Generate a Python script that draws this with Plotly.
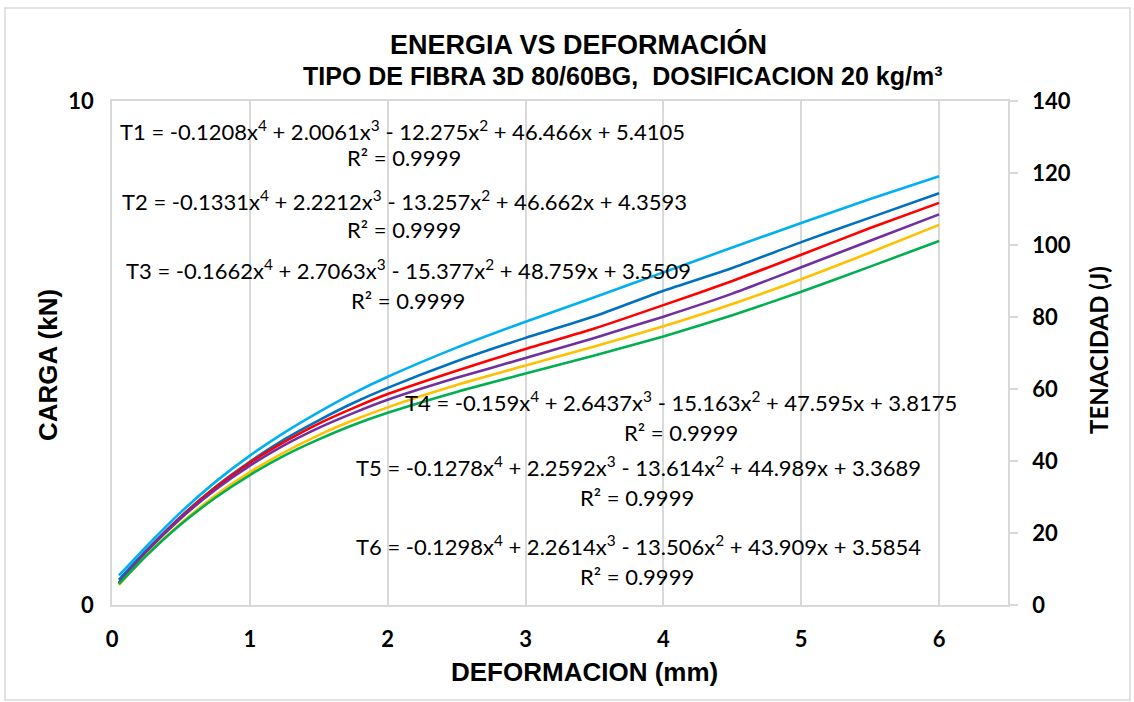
import plotly.graph_objects as go

# deformation (mm) and toughness (J)
DEFORMACION = [0.05, 0.25, 0.5, 0.75, 1.0, 1.25, 1.5, 1.75, 2.0, 2.5, 3.0, 3.5, 4.0, 4.5, 5.0, 5.5, 6.0]
T1 = [8.2, 16.3, 25.8, 34.2, 41.5, 47.9, 53.6, 58.8, 63.4, 71.5, 78.7, 85.5, 92.4, 99.3, 106.1, 112.8, 119.1]
T2 = [7.0, 15.2, 24.6, 32.8, 39.8, 46.0, 51.3, 56.1, 60.3, 67.7, 74.2, 80.2, 87.3, 93.6, 100.8, 107.6, 114.4]
T3 = [6.0, 14.8, 24.4, 32.6, 39.5, 45.3, 50.4, 54.7, 58.6, 65.1, 71.1, 76.8, 83.3, 90.0, 97.3, 104.7, 111.7]
T4 = [6.2, 14.8, 24.1, 32.0, 38.7, 44.4, 49.2, 53.3, 57.0, 63.1, 68.6, 74.2, 80.1, 86.5, 93.8, 101.2, 108.5]
T5 = [5.6, 13.8, 22.7, 30.4, 36.9, 42.4, 47.2, 51.3, 54.9, 61.1, 66.5, 71.8, 77.4, 83.6, 90.5, 97.9, 105.6]
T6 = [5.8, 13.7, 22.4, 29.8, 36.1, 41.5, 46.0, 50.0, 53.4, 59.2, 64.3, 69.3, 74.6, 80.5, 87.0, 94.0, 101.1]

SERIES = {"T1": T1, "T2": T2, "T3": T3, "T4": T4, "T5": T5, "T6": T6}
COLORS = {
    "T1": "#00B0F0",
    "T2": "#0070C0",
    "T3": "#FF0000",
    "T4": "#7030A0",
    "T5": "#FFC000",
    "T6": "#00B050",
}

# trendline labels: (text, x centre in mm, y in J)
EQUATIONS = [
    ("T1 = -0.1208x<sup>4</sup> + 2.0061x<sup>3</sup> - 12.275x<sup>2</sup> + 46.466x + 5.4105", 2.11, 131.9),
    ("R² = 0.9999", 2.12, 124.2),
    ("T2 = -0.1331x<sup>4</sup> + 2.2212x<sup>3</sup> - 13.257x<sup>2</sup> + 46.662x + 4.3593", 2.12, 112.5),
    ("R² = 0.9999", 2.12, 104.2),
    ("T3 = -0.1662x<sup>4</sup> + 2.7063x<sup>3</sup> - 15.377x<sup>2</sup> + 48.759x + 3.5509", 2.15, 93.1),
    ("R² = 0.9999", 2.15, 84.7),
    ("T4 = -0.159x<sup>4</sup> + 2.6437x<sup>3</sup> - 15.163x<sup>2</sup> + 47.595x + 3.8175", 4.13, 56.4),
    ("R² = 0.9999", 4.13, 47.8),
    ("T5 = -0.1278x<sup>4</sup> + 2.2592x<sup>3</sup> - 13.614x<sup>2</sup> + 44.989x + 3.3689", 3.82, 38.6),
    ("R² = 0.9999", 3.81, 30.0),
    ("T6 = -0.1298x<sup>4</sup> + 2.2614x<sup>3</sup> - 13.506x<sup>2</sup> + 43.909x + 3.5854", 3.82, 16.4),
    ("R² = 0.9999", 3.81, 7.8),
]

GRID = "#D9D9D9"
TICK_FONT = dict(family="Lato, Arial", size=22, color="black", weight="bold")

fig = go.Figure()
# dummy trace so the left (CARGA) axis is drawn
fig.add_trace(go.Scatter(x=[None], y=[None], yaxis="y", showlegend=False, hoverinfo="skip"))
for name, vals in SERIES.items():
    fig.add_trace(go.Scatter(
        x=DEFORMACION, y=vals, name=name, yaxis="y2", mode="lines",
        line=dict(color=COLORS[name], width=2.6, shape="spline", smoothing=0.6),
    ))

for text, x, y in EQUATIONS:
    fig.add_annotation(
        x=x, y=y, xref="x", yref="y2", text=text, showarrow=False,
        xanchor="center", yanchor="middle",
        font=dict(family="Lato, Arial", size=22, color="black"),
    )

# titles placed in paper coords (plot area = px 112..1008 x 101..605)
def px(xp):
    return (xp - 112) / 896


def py(yp):
    return (605 - yp) / 504


def paper_text(text, x, y, font, angle=0):
    fig.add_annotation(x=px(x), y=py(y), xref="paper", yref="paper", showarrow=False,
                       xanchor="center", yanchor="middle", textangle=angle,
                       text=text, font=font)


arial_bold = dict(family="Liberation Sans, Arial", color="black", weight="bold")
paper_text("ENERGIA VS DEFORMACIÓN", 578, 45, dict(arial_bold, size=27))
paper_text("TIPO DE FIBRA 3D 80/60BG,  DOSIFICACION 20 kg/m³", 622, 76, dict(arial_bold, size=25))
paper_text("DEFORMACION (mm)", 584, 672, dict(arial_bold, size=26))
paper_text("CARGA (kN)", 48, 365, dict(arial_bold, size=26), angle=-90)
paper_text("TENACIDAD (J)", 1098, 350,
           dict(family="Lato, Arial", size=24, color="black", weight="bold"), angle=-90)

# chart frame
fig.add_shape(type="rect", xref="paper", yref="paper",
              x0=px(5), x1=px(1130), y0=py(700), y1=py(8),
              line=dict(color=GRID, width=1.5), layer="below")

fig.update_layout(
    width=1134,
    height=702,
    margin=dict(l=112, r=126, t=101, b=97),
    plot_bgcolor="white",
    paper_bgcolor="white",
    showlegend=False,
    xaxis=dict(
        range=[0, 6.5], dtick=1, tick0=0, showgrid=True, gridcolor=GRID, gridwidth=1.5,
        zeroline=False, showline=True, linecolor=GRID, linewidth=1.5, mirror=True,
        ticks="", tickfont=TICK_FONT, ticklabelstandoff=14,
    ),
    yaxis=dict(
        range=[0, 10], dtick=10, showgrid=False, zeroline=False,
        showline=True, linecolor=GRID, linewidth=1.5,
        ticks="", tickfont=TICK_FONT, ticklabelstandoff=12,
    ),
    yaxis2=dict(
        range=[0, 140], dtick=20, overlaying="y", side="right", showgrid=False,
        zeroline=False, showline=True, linecolor=GRID, linewidth=1.5,
        ticks="outside", ticklen=8, tickcolor=GRID, tickwidth=1.5,
        tickfont=TICK_FONT, ticklabelstandoff=10,
    ),
)

fig.write_html("out.html", config={"displayModeBar": False},
               post_script="document.body.style.margin='0';")
